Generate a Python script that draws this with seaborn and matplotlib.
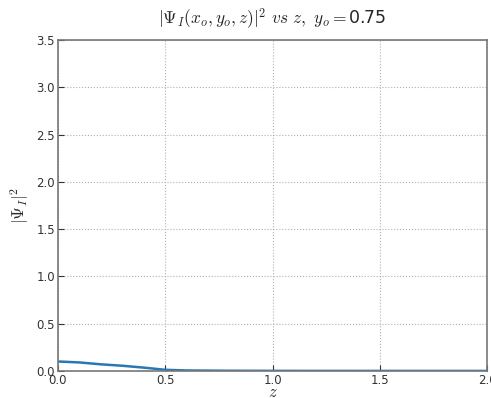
import matplotlib
matplotlib.use("Agg")
import matplotlib.pyplot as plt
import seaborn as sns
import pandas as pd

# |Psi_I|^2 sampled along z at y_o = 0.75
z = [0.0, 0.1, 0.2, 0.3, 0.4, 0.5, 0.6, 0.8, 1.0, 1.2, 1.5, 1.8, 2.0]
psi_sq = [0.10, 0.09, 0.07, 0.055, 0.035, 0.012, 0.005, 0.002, 0.001, 0.0005, 0.0003, 0.0002, 0.0001]
xticks = [0.0, 0.5, 1.0, 1.5, 2.0]
yticks = [0.0, 0.5, 1.0, 1.5, 2.0, 2.5, 3.0, 3.5]

sns.set_style("whitegrid", {
    "grid.color": "#b0b0b0",
    "grid.linestyle": ":",
    "axes.edgecolor": "#777777",
    "xtick.direction": "in",
    "ytick.direction": "in",
})
plt.rcParams["font.family"] = ["DejaVu Sans"]
plt.rcParams["mathtext.fontset"] = "cm"

df = pd.DataFrame({"z": z, "psi": psi_sq})

fig = plt.figure(figsize=(4.91, 3.98), dpi=100)
ax = fig.add_axes([0.118, 0.068, 0.874, 0.831])
sns.lineplot(data=df, x="z", y="psi", ax=ax, color="#2a78b2", linewidth=1.8)

ax.set_xlim(0, 2.0)
ax.set_ylim(0, 3.5)
ax.set_xticks(xticks)
ax.set_yticks(yticks)
ax.set_xticklabels([f"{t:.1f}" for t in xticks])
ax.set_yticklabels([f"{t:.1f}" for t in yticks])
ax.tick_params(labelsize=8.5, colors="#333333", length=4, width=0.8,
               direction="in", bottom=True, left=True, pad=2)
for s in ax.spines.values():
    s.set_linewidth(1.2)
    s.set_color("#777777")
ax.grid(True, linestyle=":", color="#b0b0b0", linewidth=0.8)

ax.set_xlabel(r"$z$", fontsize=12, labelpad=-3)
ax.set_ylabel(r"$|\Psi_I|^2$", fontsize=12, labelpad=4)
ax.set_title(r"$|\Psi_I(x_o,y_o,z)|^2\ vs\ z,\ y_o=$0.75", fontsize=12.5, pad=12)

fig.savefig("out.png", dpi=100)
